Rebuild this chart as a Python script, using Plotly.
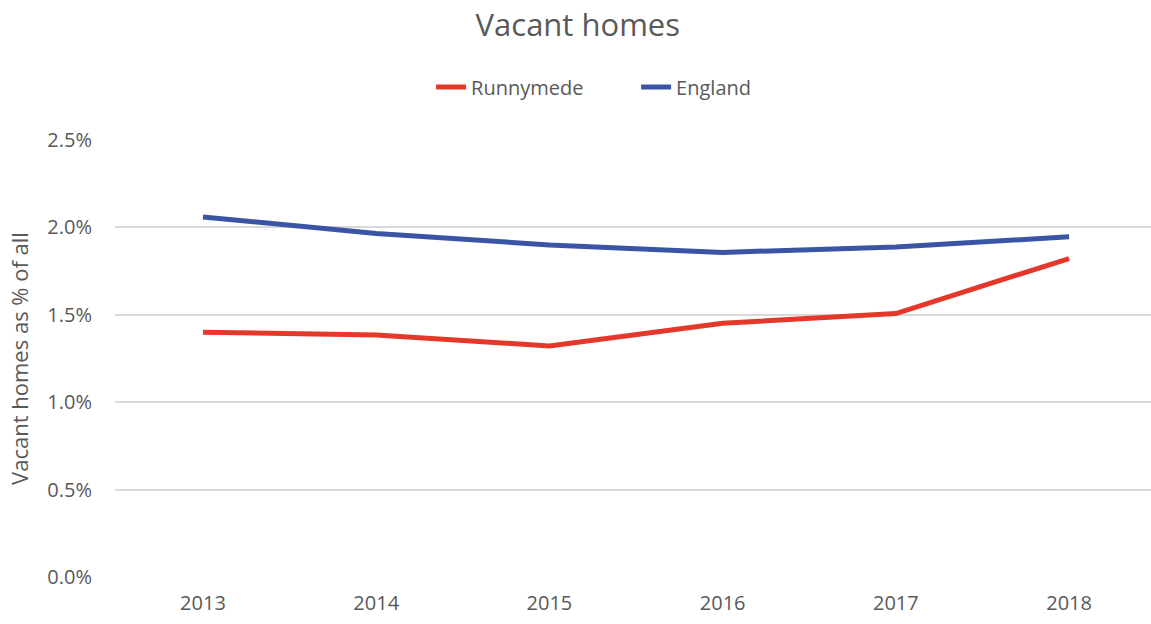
import plotly.graph_objects as go

years = ["2013", "2014", "2015", "2016", "2017", "2018"]
runnymede = [1.40, 1.385, 1.322, 1.452, 1.507, 1.822]
england = [2.06, 1.965, 1.90, 1.857, 1.888, 1.946]

FONT = "Open Sans, Liberation Sans, sans-serif"
GREY = "#595959"

W, H = 1151, 624

fig = go.Figure()
fig.add_trace(go.Scatter(x=list(range(len(years))), y=runnymede, name="Runnymede", mode="lines",
                         line=dict(color="#E5382A", width=5)))
fig.add_trace(go.Scatter(x=list(range(len(years))), y=england, name="England", mode="lines",
                         line=dict(color="#3A55A4", width=5)))

fig.update_layout(
    width=W, height=H,
    margin=dict(l=115, r=0, t=140, b=47),
    paper_bgcolor="white", plot_bgcolor="white",
    font=dict(family=FONT, color=GREY, size=20),
    title=dict(text="Vacant homes", x=0.502, xanchor="center", y=1 - 25 / H, yanchor="middle",
               font=dict(size=31, color=GREY, family=FONT)),
    legend=dict(orientation="h", x=0.503, xanchor="center", y=1 + 53 / 437, yanchor="middle",
                font=dict(size=20, color=GREY), bgcolor="rgba(0,0,0,0)",
                entrywidth=160, entrywidthmode="pixels"),
    showlegend=True,
)
fig.update_xaxes(tickmode="array", tickvals=list(range(len(years))), ticktext=years,
                 range=[-0.508, 5.473], showgrid=False, zeroline=False, showline=False,
                 ticks="", ticklabelstandoff=12, tickfont=dict(size=20, color=GREY))
fig.update_yaxes(range=[0, 2.5], dtick=0.5, tickformat=".1f", ticksuffix="%",
                 showgrid=True, gridcolor="#D9D9D9", gridwidth=1.5, zeroline=False,
                 showline=False, ticks="", ticklabelstandoff=22,
                 tickfont=dict(size=20, color=GREY),
                 title=dict(text="Vacant homes as % of all", font=dict(size=22, color=GREY), standoff=12))

fig.write_html("out.html", config={"displayModeBar": False},
               post_script="document.body.style.margin='0';document.body.style.overflow='hidden';")
